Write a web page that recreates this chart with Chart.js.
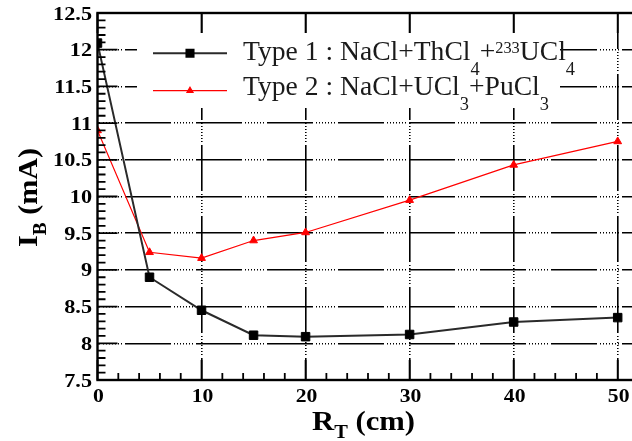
<!DOCTYPE html>
<html>
<head>
<meta charset="utf-8">
<script src="https://cdn.jsdelivr.net/npm/chart.js@4.4.1/dist/chart.umd.min.js"></script>
<style>
  html, body { margin: 0; padding: 0; background: #fff; overflow: hidden; }
  #wrap { width: 660px; height: 441px; }
</style>
</head>
<body>
<div id="wrap"><canvas id="chart" width="660" height="441"></canvas></div>
<script>
// data
const rT = [0, 5, 10, 15, 20, 30, 40, 50];
const type1 = [12.09, 8.90, 8.45, 8.11, 8.09, 8.12, 8.29, 8.35];
const type2 = [10.90, 9.24, 9.16, 9.40, 9.51, 9.95, 10.43, 10.75];
const xTickLabels = ['0', '10', '20', '30', '40', '50'];
const yTickLabels = ['7.5', '8', '8.5', '9', '9.5', '10', '10.5', '11', '11.5', '12', '12.5'];

const X_MIN = 0, X_MAX = 52, Y_MIN = 7.5, Y_MAX = 12.5;
const SERIF = '"Liberation Serif", "Times New Roman", serif';
const gridDash = [46, 3, 1, 2, 1, 2, 1, 2, 1, 2, 1, 2, 1, 2, 1, 3];

// text made of pieces (normal / sub / sup), stretched sideways by sx
function richWidth(ctx, segs, weight) {
  let w = 0;
  segs.forEach(s => {
    ctx.font = weight + ' ' + s.size + 'px ' + SERIF;
    w += ctx.measureText(s.t).width;
  });
  return w;
}
function drawRich(ctx, segs, weight, sx) {
  let x = 0;
  ctx.save();
  ctx.scale(sx, 1);
  segs.forEach(s => {
    ctx.font = weight + ' ' + s.size + 'px ' + SERIF;
    ctx.fillText(s.t, x, s.dy || 0);
    x += ctx.measureText(s.t).width;
  });
  ctx.restore();
}

const rootStyle = {
  id: 'rootStyle',
  beforeDatasetsDraw(chart) {
    const ctx = chart.ctx;
    // legend box hides the grid
    ctx.save();
    ctx.fillStyle = '#fff';
    ctx.fillRect(137, 33, 423, 75);
    ctx.restore();
  },
  afterDraw(chart) {
    const ctx = chart.ctx;
    const xs = chart.scales.x, ys = chart.scales.y;
    const a = chart.chartArea;
    ctx.save();
    ctx.strokeStyle = '#000';
    ctx.fillStyle = '#000';

    // tick marks
    ctx.lineWidth = 1.8;
    ctx.beginPath();
    for (let v = X_MIN; v <= X_MAX; v += 2) {
      const px = xs.getPixelForValue(v);
      const major = v % 10 === 0;
      ctx.moveTo(px, a.bottom);
      ctx.lineTo(px, a.bottom - (major ? 20 : 7));
      if (major) { ctx.moveTo(px, a.top); ctx.lineTo(px, a.top + 20); }
    }
    for (let i = 0; i <= 50; i++) {
      const py = ys.getPixelForValue(Y_MIN + i * 0.1);
      const major = i % 5 === 0;
      ctx.moveTo(a.left, py);
      ctx.lineTo(a.left + (major ? 20 : 8), py);
    }
    ctx.stroke();

    // frame
    ctx.lineWidth = 2.4;
    ctx.strokeRect(a.left, a.top, a.right - a.left, a.bottom - a.top);

    // tick labels
    ctx.font = 'bold 19px ' + SERIF;
    ctx.textBaseline = 'alphabetic';
    ctx.textAlign = 'right';
    yTickLabels.forEach(l => {
      const py = ys.getPixelForValue(Number(l));
      ctx.save();
      ctx.translate(92, py + 6.5);
      ctx.scale(1.17, 1);
      ctx.fillText(l, 0, 0);
      ctx.restore();
    });
    ctx.textAlign = 'center';
    xTickLabels.forEach(l => {
      const px = xs.getPixelForValue(Number(l));
      ctx.save();
      ctx.translate(px + 1, 402);
      ctx.scale(1.14, 1);
      ctx.fillText(l, 0, 0);
      ctx.restore();
    });

    // axis titles
    ctx.textAlign = 'left';
    const xTitle = [{ t: 'R', size: 27 }, { t: 'T', size: 18, dy: 8 }, { t: ' (cm)', size: 27 }];
    let sx = 103 / richWidth(ctx, xTitle, 'bold');
    ctx.save();
    ctx.translate(312, 430);
    drawRich(ctx, xTitle, 'bold', sx);
    ctx.restore();

    const yTitle = [{ t: 'I', size: 28 }, { t: 'B', size: 18, dy: 9 }, { t: ' (mA)', size: 28 }];
    sx = 99 / richWidth(ctx, yTitle, 'bold');
    ctx.save();
    ctx.translate(37, 247);
    ctx.rotate(-Math.PI / 2);
    drawRich(ctx, yTitle, 'bold', sx);
    ctx.restore();

    // legend
    const rows = [
      { ds: chart.data.datasets[0], y: 53.3, base: 60,
        segs: [{ t: 'Type 1 : NaCl+ThCl', size: 27 }, { t: '4', size: 18, dy: 15 }, { t: '+', size: 27 },
               { t: '233', size: 16, dy: -7 }, { t: 'UCl', size: 27 }, { t: '4', size: 18, dy: 15 }] },
      { ds: chart.data.datasets[1], y: 90.7, base: 94.5,
        segs: [{ t: 'Type 2 : NaCl+UCl', size: 27 }, { t: '3', size: 18, dy: 15 }, { t: '+PuCl', size: 27 },
               { t: '3', size: 18, dy: 15 }] }
    ];
    const legSx = (575 - 243) / richWidth(ctx, rows[0].segs, 'normal');
    rows.forEach(r => {
      ctx.strokeStyle = r.ds.borderColor;
      ctx.lineWidth = r.ds.borderWidth;
      ctx.beginPath();
      ctx.moveTo(153, r.y);
      ctx.lineTo(227, r.y);
      ctx.stroke();
      ctx.fillStyle = r.ds.pointBackgroundColor;
      ctx.strokeStyle = r.ds.pointBorderColor;
      Chart.helpers.drawPoint(ctx, {
        pointStyle: r.ds.pointStyle, radius: r.ds.pointRadius - 1, rotation: 0, borderWidth: 1
      }, 190, r.y);
      ctx.fillStyle = '#1a1a1a';
      ctx.save();
      ctx.translate(243, r.base);
      drawRich(ctx, r.segs, 'normal', legSx);
      ctx.restore();
    });
    ctx.restore();
  }
};

const gridX = xTickLabels.map(Number).filter(v => v > X_MIN && v < X_MAX);
const gridY = yTickLabels.map(Number).filter(v => v > Y_MIN && v < Y_MAX);

new Chart(document.getElementById('chart'), {
  type: 'line',
  data: {
    datasets: [
      {
        label: 'Type 1',
        data: rT.map((x, i) => ({ x: x, y: type1[i] })),
        borderColor: '#2a2a2a',
        borderWidth: 2,
        pointStyle: 'rect',
        pointRadius: 6,
        pointBackgroundColor: '#000',
        pointBorderColor: '#000',
        pointBorderWidth: 1,
        tension: 0
      },
      {
        label: 'Type 2',
        data: rT.map((x, i) => ({ x: x, y: type2[i] })),
        borderColor: '#ff0000',
        borderWidth: 1.2,
        pointStyle: 'triangle',
        pointRadius: 4.5,
        pointBackgroundColor: '#ff0000',
        pointBorderColor: '#ff0000',
        pointBorderWidth: 1,
        tension: 0
      }
    ]
  },
  options: {
    responsive: false,
    animation: false,
    events: [],
    layout: { padding: { left: 97.5, top: 13, right: 21.5, bottom: 61 } },
    plugins: { legend: { display: false }, tooltip: { enabled: false } },
    scales: {
      x: {
        type: 'linear', min: X_MIN, max: X_MAX,
        afterBuildTicks: s => { s.ticks = gridX.map(v => ({ value: v })); },
        ticks: { display: false },
        grid: { color: '#000', lineWidth: 1.6, drawTicks: false },
        border: { display: false, dash: gridDash, dashOffset: 10 }
      },
      y: {
        type: 'linear', min: Y_MIN, max: Y_MAX,
        afterBuildTicks: s => { s.ticks = gridY.map(v => ({ value: v })); },
        ticks: { display: false },
        grid: { color: '#000', lineWidth: 1.6, drawTicks: false },
        border: { display: false, dash: gridDash, dashOffset: 44 }
      }
    }
  },
  plugins: [rootStyle]
});
</script>
</body>
</html>
